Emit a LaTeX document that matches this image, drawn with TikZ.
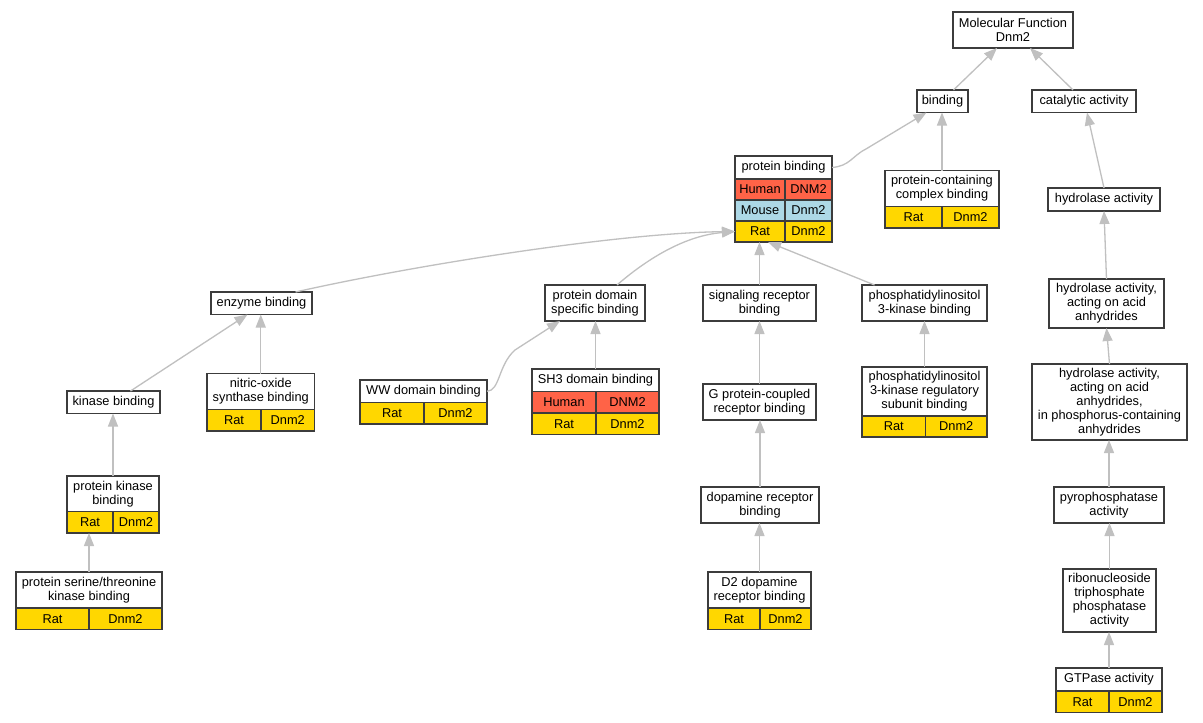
\documentclass[tikz,border=0pt]{standalone}
\usepackage{fontspec}
\setmainfont{Liberation Sans}
\usetikzlibrary{arrows.meta}
\definecolor{bd}{RGB}{60,60,60}
\definecolor{eg}{RGB}{192,192,192}
\definecolor{hum}{RGB}{255,99,71}
\definecolor{mou}{RGB}{173,216,230}
\definecolor{rat}{RGB}{255,215,0}
\newcommand{\lab}{\fontsize{12.8}{14}\selectfont}
\newcommand{\rowpair}[8]{%
  \node[#6, minimum width=#3pt, minimum height=#5pt] (#1a) at (#2) {#7};
  \node[#6, minimum width=#4pt, minimum height=#5pt] (#1b) at (#1a.north east) {#8};}
\tikzset{
  hdr/.style={draw=bd, line width=1.3pt, fill=white, inner sep=0pt, outer sep=0pt, align=center, anchor=north west, font=\lab, text=black},
  cellrat/.style={hdr, fill=rat},
  cellhum/.style={hdr, fill=hum},
  cellmou/.style={hdr, fill=mou},
  edge/.style={draw=eg, line width=1.3pt, -{Triangle[length=13pt,width=10pt,fill=eg]}}
}
\begin{document}
\begin{tikzpicture}[x=1pt,y=-1pt]
\fill[white] (0,0) rectangle (1203,723);
\useasboundingbox (0,0) rectangle (1203,723);

% nodes
\node[hdr, minimum width=120pt, minimum height=36pt] (mf) at (953,12) {Molecular Function\\Dnm2};
\node[hdr, minimum width=51pt, minimum height=22.5pt] (bind) at (917,90) {binding};
\node[hdr, minimum width=104pt, minimum height=22.5pt] (cat) at (1032,90) {catalytic activity};

\node[hdr, minimum width=97pt, minimum height=23pt] (pbh) at (735,156) {protein binding};
\rowpair{pbu}{pbh.south west}{50}{47}{21}{cellhum}{Human}{DNM2}
\rowpair{pbm}{pbua.south west}{50}{47}{21}{cellmou}{Mouse}{Dnm2}
\rowpair{pbr}{pbma.south west}{50}{47}{21}{cellrat}{Rat}{Dnm2}

\node[hdr, minimum width=114pt, minimum height=36pt] (pcb) at (885,170.5) {protein-containing\\complex binding};
\rowpair{pcbr}{pcb.south west}{57}{57}{21.5}{cellrat}{Rat}{Dnm2}

\node[hdr, minimum width=112pt, minimum height=23pt] (hyd) at (1048,188) {hydrolase activity};

\node[hdr, minimum width=101pt, minimum height=22.5pt] (eb) at (211,292) {enzyme binding};
\node[hdr, minimum width=100pt, minimum height=36pt] (pdsb) at (545,285) {protein domain\\specific binding};
\node[hdr, minimum width=113pt, minimum height=36pt] (sr) at (703,285) {signaling receptor\\binding};
\node[hdr, minimum width=125pt, minimum height=36pt] (pik) at (862,285) {phosphatidylinositol\\3-kinase binding};
\node[hdr, minimum width=115pt, minimum height=49pt] (hya) at (1049,279) {hydrolase activity,\\acting on acid\\anhydrides};

\node[hdr, minimum width=93pt, minimum height=22.5pt] (kb) at (67,391) {kinase binding};
\node[hdr, minimum width=107.5pt, minimum height=36pt] (nos) at (207,373.5) {nitric-oxide\\synthase binding};
\rowpair{nosr}{nos.south west}{54}{53.5}{21.5}{cellrat}{Rat}{Dnm2}

\node[hdr, minimum width=127pt, minimum height=22.5pt] (ww) at (360,380) {WW domain binding};
\rowpair{wwr}{ww.south west}{64}{63}{21.5}{cellrat}{Rat}{Dnm2}

\node[hdr, minimum width=127pt, minimum height=22.5pt] (sh) at (532,369) {SH3 domain binding};
\rowpair{shu}{sh.south west}{64}{63}{21.5}{cellhum}{Human}{DNM2}
\rowpair{shr}{shua.south west}{64}{63}{21.5}{cellrat}{Rat}{Dnm2}

\node[hdr, minimum width=113pt, minimum height=36pt] (gpc) at (703,384) {G protein-coupled\\receptor binding};
\node[hdr, minimum width=125pt, minimum height=49pt] (pikr) at (862,367) {phosphatidylinositol\\3-kinase regulatory\\subunit binding};
\rowpair{pikrr}{pikr.south west}{63.5}{61.5}{21}{cellrat}{Rat}{Dnm2}

\node[hdr, minimum width=155pt, minimum height=76pt] (hyp) at (1032,364) {hydrolase activity,\\acting on acid\\anhydrides,\\in phosphorus-containing\\anhydrides};

\node[hdr, minimum width=92pt, minimum height=35.5pt] (pkb) at (67,476) {protein kinase\\binding};
\rowpair{pkbr}{pkb.south west}{46}{46}{21.5}{cellrat}{Rat}{Dnm2}

\node[hdr, minimum width=118pt, minimum height=36pt] (dop) at (701,487) {dopamine receptor\\binding};
\node[hdr, minimum width=110pt, minimum height=36pt] (pyro) at (1054,487) {pyrophosphatase\\activity};

\node[hdr, minimum width=146pt, minimum height=36pt] (sst) at (16,572) {protein serine/threonine\\kinase binding};
\rowpair{sstr}{sst.south west}{73}{73}{21.5}{cellrat}{Rat}{Dnm2}

\node[hdr, minimum width=103pt, minimum height=36pt] (dd) at (708,572) {D2 dopamine\\receptor binding};
\rowpair{ddr}{dd.south west}{52}{51}{21.5}{cellrat}{Rat}{Dnm2}

\node[hdr, minimum width=93pt, minimum height=63pt] (ribo) at (1063,569) {ribonucleoside\\triphosphate\\phosphatase\\activity};

\node[hdr, minimum width=106pt, minimum height=23pt] (gtp) at (1056,668) {GTPase activity};
\rowpair{gtpr}{gtp.south west}{53}{53}{21.5}{cellrat}{Rat}{Dnm2}

% edges
\draw[edge] ([xshift=11pt]bind.north) -- ([xshift=-16pt]mf.south);
\draw[edge] ([xshift=-11pt]cat.north) -- ([xshift=17pt]mf.south);
\draw[edge] (hyd.north) -- ([xshift=3pt]cat.south);
\draw[edge] (pcb.north) -- (pcb.north |- bind.south);
\draw[edge] (pbh.east) .. controls (850,166) and (852,156) .. (866,149) -- ([xshift=-16pt]bind.south);

\draw[edge] ([xshift=34pt]eb.north) .. controls (420,264) and (620,233) .. (pbra.west);
\draw[edge] ([xshift=22pt]pdsb.north) .. controls (640,265) and (680,236) .. (pbra.west);
\draw[edge] (sr.north) -- (sr.north |- pbra.south);
\draw[edge] ([xshift=-50pt]pik.north) -- ([xshift=8pt]pbra.south);

\draw[edge] (hya.north) -- (hyd.south);
\draw[edge] (hyp.north) -- (hya.south);
\draw[edge] (pyro.north) -- (pyro.north |- hyp.south);
\draw[edge] (ribo.north) -- (ribo.north |- pyro.south);
\draw[edge] (gtp.north) -- (gtp.north |- ribo.south);

\draw[edge] ([xshift=17pt]kb.north) -- ([xshift=-14pt]eb.south);
\draw[edge] (nos.north) -- (nos.north |- eb.south);
\draw[edge] (pkb.north) -- (pkb.north |- kb.south);
\draw[edge] (sst.north) -- (sst.north |- pkbra.south);

\draw[edge] (ww.east) .. controls (500,391) and (498,365) .. (515,350) -- ([xshift=-35pt]pdsb.south);
\draw[edge] (sh.north) -- (sh.north |- pdsb.south);

\draw[edge] (gpc.north) -- (gpc.north |- sr.south);
\draw[edge] (dop.north) -- (dop.north |- gpc.south);
\draw[edge] (dd.north) -- (dd.north |- dop.south);
\draw[edge] (pikr.north) -- (pikr.north |- pik.south);
\end{tikzpicture}
\end{document}
